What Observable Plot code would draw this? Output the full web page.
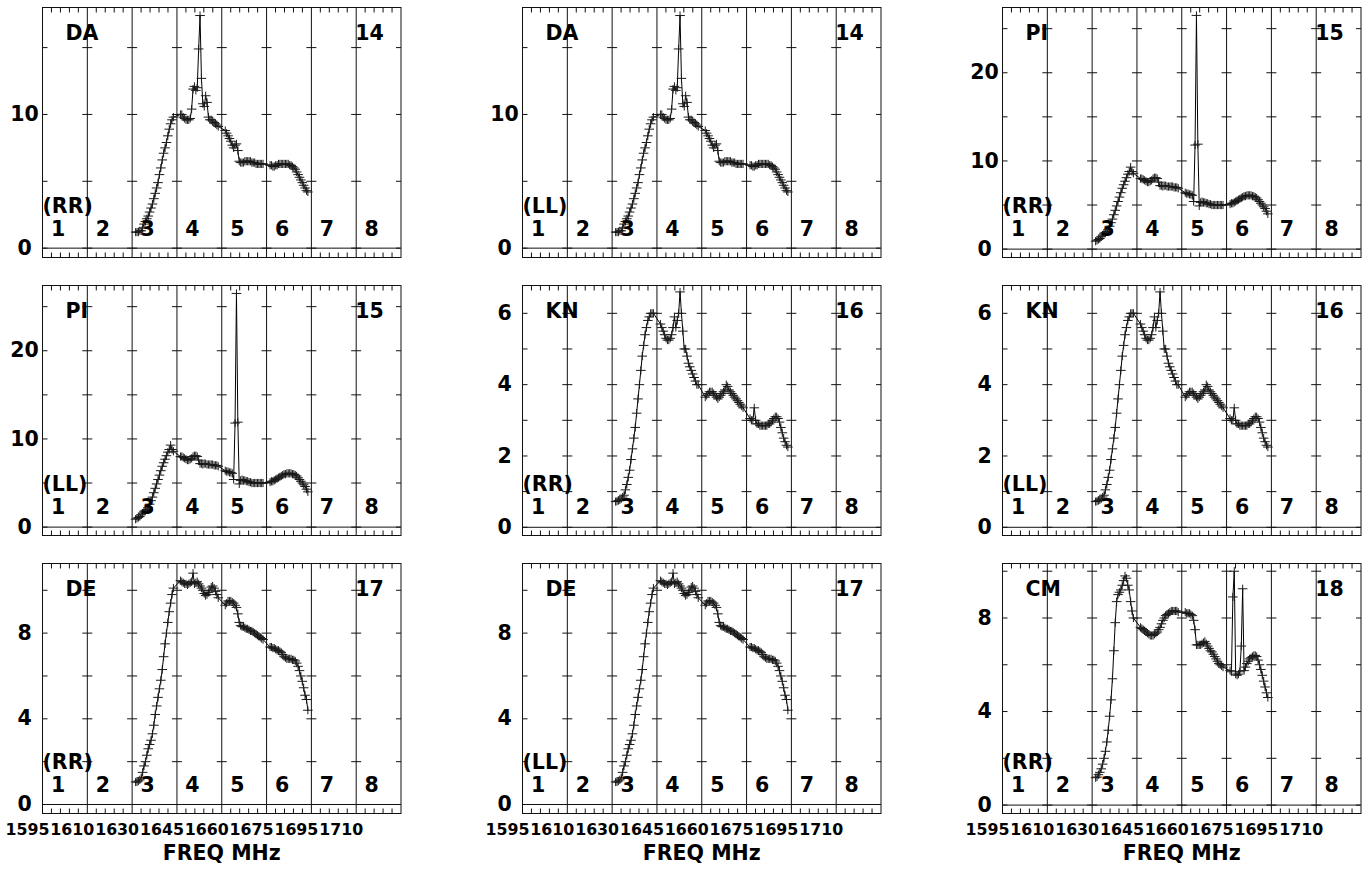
<!DOCTYPE html>
<html><head><meta charset="utf-8">
<script src="https://cdn.jsdelivr.net/npm/d3@7"></script>
<script src="https://cdn.jsdelivr.net/npm/@observablehq/plot@0.6"></script>
<style>
html,body{margin:0;padding:0;background:#fff;overflow:hidden}
#chart{position:relative;width:1369px;height:869px;background:#fff}
#chart svg{position:absolute}
</style></head><body><div id="chart"></div>
<script>
// ---- data ----
const ifLabels = ["1","2","3","4","5","6","7","8"];
const freqLabels = ["1595","1610","1630","1645","1660","1675","1695","1710"];
const channelsPerIF = 32;
const firstChannel = 2;          // channels 2..29 of each IF are plotted
const dataIFs = [3, 4, 5, 6];    // IFs with data (28 channels each)

const DA = [
 1.2,1.2,1.2,1.3,1.3,1.5,1.8,2.0,2.2,2.4,2.7,3.0,3.3,3.7,4.1,4.5,4.9,5.5,6.0,6.6,7.1,7.5,7.9,8.4,8.9,9.3,9.6,9.8,
 10.0,10.0,9.8,9.7,9.6,9.6,9.6,9.7,10.4,11.9,12.1,11.8,12.0,14.9,17.4,12.7,10.8,10.6,11.4,10.9,9.8,9.6,9.6,9.5,9.4,9.3,9.2,9.1,
 8.8,8.6,8.4,8.2,8.0,7.7,7.5,7.7,7.8,7.3,6.5,6.4,6.4,6.4,6.5,6.5,6.5,6.5,6.5,6.4,6.4,6.4,6.3,6.3,6.3,6.3,6.3,6.3,
 6.2,6.2,6.1,6.1,6.2,6.2,6.3,6.3,6.3,6.3,6.3,6.3,6.3,6.3,6.2,6.2,6.1,6.0,5.9,5.7,5.5,5.3,5.1,4.9,4.7,4.5,4.3,4.2
];
const PI = [
 0.9,1.0,1.1,1.2,1.4,1.6,1.8,1.9,2.0,2.2,2.6,3.0,3.4,3.9,4.4,4.9,5.4,5.9,6.4,6.9,7.3,7.7,8.1,8.5,8.8,9.3,8.8,8.6,
 8.0,8.0,7.9,7.8,7.7,7.6,7.6,7.7,7.8,8.0,8.1,8.1,8.0,7.6,7.2,7.2,7.1,7.2,7.2,7.1,7.1,7.1,7.1,7.1,7.0,7.0,7.0,6.9,
 6.4,6.3,6.3,6.2,6.2,6.1,5.4,11.8,26.5,11.9,4.9,5.3,5.4,5.3,5.3,5.2,5.2,5.1,5.1,5.0,5.0,5.0,5.0,5.0,5.0,5.0,5.0,5.0,
 5.1,5.2,5.2,5.3,5.4,5.5,5.6,5.7,5.8,5.9,6.0,6.0,6.1,6.1,6.1,6.1,6.0,6.0,5.9,5.8,5.6,5.4,5.2,5.0,4.8,4.6,4.3,4.0
];
const KN = [
 0.72,0.73,0.75,0.77,0.8,0.85,0.9,1.05,1.2,1.4,1.6,1.9,2.2,2.5,2.8,3.2,3.6,4.0,4.4,4.8,5.1,5.4,5.6,5.8,5.9,6.0,6.0,6.0,
 5.7,5.6,5.5,5.4,5.3,5.25,5.25,5.3,5.4,5.6,5.9,5.6,5.8,6.0,6.6,6.0,5.5,5.0,5.0,4.8,4.6,4.5,4.4,4.3,4.2,4.1,4.0,4.0,
 3.65,3.7,3.75,3.8,3.8,3.8,3.75,3.7,3.65,3.6,3.65,3.7,3.75,3.8,3.85,4.0,3.95,3.85,3.8,3.75,3.7,3.65,3.6,3.55,3.5,3.45,3.4,3.35,
 3.05,3.0,3.0,3.35,3.0,2.9,2.9,2.85,2.85,2.85,2.85,2.85,2.85,2.9,2.9,2.95,3.0,3.05,3.1,3.1,3.05,2.95,2.8,2.65,2.5,2.4,2.3,2.25
];
const DE = [
 1.05,1.05,1.1,1.15,1.25,1.5,1.8,2.0,2.3,2.6,2.8,3.0,3.3,3.7,4.2,4.6,5.0,5.4,5.8,6.3,6.9,7.5,8.0,8.5,9.0,9.4,9.8,10.1,
 10.45,10.4,10.35,10.3,10.3,10.25,10.3,10.35,10.4,10.8,10.3,10.35,10.4,10.3,10.2,10.1,10.0,9.85,9.75,9.8,9.9,10.0,10.15,10.2,10.1,9.95,9.8,9.65,
 9.3,9.4,9.5,9.5,9.5,9.45,9.4,9.3,9.2,8.9,8.5,8.35,8.3,8.3,8.25,8.2,8.2,8.15,8.1,8.1,8.05,8.0,7.95,7.9,7.85,7.8,7.75,7.7,
 7.35,7.35,7.3,7.3,7.25,7.2,7.2,7.15,7.1,7.0,6.9,6.85,6.8,6.8,6.8,6.8,6.75,6.75,6.7,6.6,6.45,6.25,6.0,5.75,5.45,5.1,4.9,4.4
];
const CM = [
 1.17,1.2,1.3,1.4,1.55,1.75,2.0,2.3,2.7,3.2,3.8,4.5,5.4,6.6,7.8,8.7,9.0,9.1,9.2,9.4,9.6,9.8,9.7,9.4,9.2,8.7,8.3,8.0,
 7.6,7.55,7.5,7.45,7.4,7.35,7.3,7.25,7.25,7.25,7.3,7.35,7.4,7.5,7.6,7.75,7.9,8.0,8.1,8.15,8.2,8.25,8.3,8.3,8.3,8.3,8.3,8.25,
 8.25,8.2,8.2,8.2,8.15,8.1,7.9,7.5,6.85,6.85,6.85,6.85,6.9,6.95,7.0,6.9,6.8,6.7,6.6,6.55,6.45,6.35,6.25,6.15,6.05,6.0,5.95,5.9,
 5.75,5.7,8.9,10.0,5.6,5.55,5.6,5.7,6.8,9.25,5.75,5.9,6.05,6.15,6.25,6.3,6.35,6.4,6.4,6.35,6.2,6.0,5.8,5.55,5.3,5.05,4.8,4.6
];
const spectra = {DA, PI, KN, DE, CM};

const panelStation = ["DA","DA","PI","PI","KN","KN","DE","DE","CM"];
const panelPol     = ["(RR)","(LL)","(RR)","(LL)","(RR)","(LL)","(RR)","(LL)","(RR)"];
const panelNumber  = ["14","14","15","15","16","16","17","17","18"];
const yMin = {DA: -0.7, PI: -0.95, KN: -0.23, DE: -0.42, CM: -0.36};
const yMax = {DA: 18.0, PI: 27.4, KN: 6.78, DE: 11.25, CM: 10.33};
const yTickStep  = {DA: 5, PI: 5, KN: 1, DE: 2, CM: 2};
const yLabelStep = {DA: 10, PI: 10, KN: 2, DE: 4, CM: 4};

// ---- helpers ----
const nIF = ifLabels.length;
const xMax = nIF * channelsPerIF;
function toRows(vals) {
  const per = vals.length / dataIFs.length, out = [];
  dataIFs.forEach((f, k) => {
    for (let j = 0; j < per; j++) out.push({x: (f - 1) * channelsPerIF + firstChannel + j + 0.5, y: vals[k * per + j]});
  });
  return out;
}
const plusSym = {draw(ctx, size) { const r = Math.sqrt(size / Math.PI);
  ctx.moveTo(-r, 0); ctx.lineTo(r, 0); ctx.moveTo(0, -0.85 * r); ctx.lineTo(0, 0.85 * r); }};
const hTick = {draw(ctx, size) { const r = Math.sqrt(size / Math.PI); ctx.moveTo(-r, 0); ctx.lineTo(r, 0); }};
const vTick = {draw(ctx, size) { const r = Math.sqrt(size / Math.PI); ctx.moveTo(0, -r); ctx.lineTo(0, r); }};

const FONT = "DejaVu Sans";
const FS = 20.5;
const chart = document.getElementById("chart");

panelStation.forEach((st, p) => {
  const col = p % 3, row = Math.floor(p / 3);
  const bottomRow = row === 2;
  const rows = toRows(spectra[st]);
  const lo = yMin[st], hi = yMax[st];
  const tv = d3.range(0, hi, yTickStep[st]);
  const lv = d3.range(0, hi, yLabelStep[st]);
  const bounds = d3.range(1, nIF).map(i => i * channelsPerIF);
  const innerTicks = bounds.flatMap(b => tv.map(v => ({x: b, y: v})));
  const edgeL = tv.map(v => ({x: 0, y: v}));
  const edgeR = tv.map(v => ({x: xMax, y: v}));
  const minor = d3.range(nIF).flatMap(s => [1,2,3,4].map(k => s * channelsPerIF + k * channelsPerIF / 5));
  const mb = bottomRow ? 58 : 14;
  const txt = {fontFamily: FONT, fontSize: FS, fontWeight: "bold", fill: "#000"};
  const marks = [
    Plot.ruleX(bounds, {stroke: "#111", strokeWidth: 1}),
    Plot.ruleY([0], {stroke: "#111", strokeWidth: 1}),
    Plot.dot(innerTicks, {x: "x", y: "y", symbol: hTick, r: 5, stroke: "#111", strokeWidth: 1}),
    Plot.dot(edgeL, {x: "x", y: "y", symbol: hTick, r: 2.5, dx: 2.5, stroke: "#111", strokeWidth: 1}),
    Plot.dot(edgeR, {x: "x", y: "y", symbol: hTick, r: 2.5, dx: -2.5, stroke: "#111", strokeWidth: 1}),
    Plot.dot(minor, {x: d => d, y: () => lo, symbol: vTick, r: 2.5, dy: -2.5, stroke: "#111", strokeWidth: 1}),
    Plot.dot(minor, {x: d => d, y: () => hi, symbol: vTick, r: 2.5, dy: 2.5, stroke: "#111", strokeWidth: 1}),
    Plot.frame({stroke: "#111", strokeWidth: 1}),
    Plot.line(rows, {x: "x", y: "y", stroke: "#000", strokeWidth: 1}),
    Plot.dot(rows, {x: "x", y: "y", symbol: plusSym, r: 4.8, stroke: "#1a1a1a", strokeWidth: 1, fill: "none"}),
    Plot.text(lv, {y: d => d, text: d => String(d), frameAnchor: "left", dx: -18, textAnchor: "middle", lineAnchor: "middle", ...txt}),
    Plot.text([st], {frameAnchor: "top-left", dx: 23, dy: 25.5, textAnchor: "start", lineAnchor: "middle", ...txt}),
    Plot.text([panelNumber[p]], {x: () => (nIF - 1) * channelsPerIF, frameAnchor: "top", dy: 25.5, dx: -1, textAnchor: "start", lineAnchor: "middle", ...txt}),
    Plot.text([panelPol[p]], {frameAnchor: "bottom-left", dy: -51.5, textAnchor: "start", lineAnchor: "middle", ...txt}),
    Plot.text(ifLabels, {x: (d, i) => i * channelsPerIF, text: d => d, frameAnchor: "bottom", dy: -28.5, dx: 15.5, lineAnchor: "middle", ...txt})
  ];
  if (bottomRow) {
    marks.push(
      Plot.text(freqLabels, {x: (d, i) => i * channelsPerIF, text: d => d, frameAnchor: "bottom", dy: 16, dx: -15, lineAnchor: "middle", ...txt, fontSize: 15.8}),
      Plot.text(["FREQ MHz"], {frameAnchor: "bottom", dy: 39.5, lineAnchor: "middle", ...txt})
    );
  }
  const svg = Plot.plot({
    width: 409, height: 7 + 250 + mb,
    marginLeft: 42, marginRight: 8.5, marginTop: 7, marginBottom: mb,
    x: {domain: [0, xMax], axis: null},
    y: {domain: [lo, hi], axis: null},
    style: {background: "transparent", overflow: "visible", fontFamily: FONT},
    marks
  });
  svg.style.left = (480 * col) + "px";
  svg.style.top = (278 * row) + "px";
  svg.style.maxWidth = "none";
  chart.appendChild(svg);
});
</script></body></html>
